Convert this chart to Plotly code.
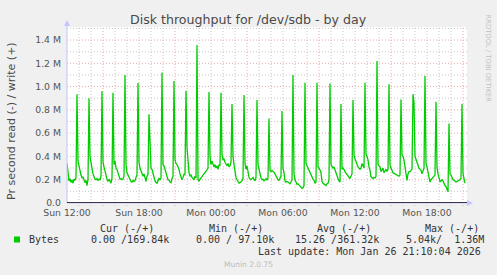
import plotly.graph_objects as go
import pandas as pd

# ---------------- data ----------------
# write throughput, thousands of bytes / second, one value per 5 minutes from Sun 12:00
write_k = [
    340, 250, 190, 210, 175, 200, 170, 205, 195, 220, 935, 360,
    330, 280, 240, 215, 225, 200, 175, 195, 150, 205, 900, 400,
    330, 300, 250, 215, 205, 200, 210, 195, 205, 200, 230, 960,
    350, 310, 270, 230, 205, 185, 205, 190, 170, 215, 947, 330,
    360, 300, 290, 260, 220, 205, 210, 200, 205, 230, 1100, 330,
    260, 240, 210, 190, 185, 180, 195, 185, 190, 220, 240, 1030,
    350, 300, 280, 250, 230, 250, 200, 185, 230, 245, 763, 420,
    300, 290, 260, 210, 190, 175, 170, 190, 210, 200, 215, 1120,
    330, 320, 280, 250, 230, 200, 195, 180, 175, 210, 230, 1047,
    370, 340, 330, 310, 290, 250, 220, 200, 220, 250, 240, 964,
    480, 360, 260, 230, 240, 220, 210, 200, 230, 215, 1357, 200,
    190, 205, 215, 225, 240, 250, 260, 275, 285, 300, 953, 400,
    330, 360, 340, 310, 330, 300, 320, 290, 330, 320, 947, 420,
    370, 380, 350, 330, 320, 340, 310, 320, 350, 850, 400, 330,
    260, 220, 200, 180, 170, 175, 180, 190, 210, 927, 340, 290,
    320, 260, 220, 205, 200, 210, 220, 200, 190, 220, 884, 330,
    280, 240, 215, 200, 205, 190, 200, 210, 195, 215, 726, 280,
    270, 280, 270, 265, 250, 230, 215, 200, 195, 215, 230, 790,
    300, 260, 190, 180, 185, 180, 170, 165, 180, 200, 1100, 250,
    200, 170, 160, 165, 155, 150, 140, 125, 130, 150, 1033, 340,
    320, 300, 285, 260, 230, 210, 205, 195, 170, 180, 1033, 310,
    300, 285, 260, 185, 170, 165, 160, 150, 165, 170, 200, 1027,
    330, 310, 300, 310, 280, 250, 230, 210, 190, 180, 850, 290,
    300, 290, 270, 260, 240, 230, 220, 210, 230, 250, 884, 410,
    380, 350, 330, 310, 300, 290, 300, 340, 320, 300, 1033, 420,
    400, 370, 310, 280, 225, 215, 210, 220, 215, 230, 1220, 330,
    320, 310, 270, 290, 300, 260, 280, 290, 270, 290, 1020, 330,
    300, 270, 260, 255, 250, 240, 240, 230, 230, 240, 890, 410,
    400, 370, 300, 220, 195, 250, 270, 270, 280, 290, 935, 860,
    400, 370, 350, 320, 300, 290, 280, 250, 270, 300, 1090, 340,
    310, 270, 220, 180, 200, 210, 220, 230, 240, 870, 310, 250,
    210, 185, 190, 200, 190, 160, 150, 140, 120, 97, 683, 250,
    240, 210, 200, 195, 190, 180, 185, 190, 195, 200, 215, 850,
    250, 200, 170,
]
start_time = "2026-01-25 12:00"
end_time = "2026-01-26 21:20"

x_tick_vals = ["2026-01-25 12:00", "2026-01-25 18:00", "2026-01-26 00:00",
               "2026-01-26 06:00", "2026-01-26 12:00", "2026-01-26 18:00"]
x_tick_text = ["Sun 12:00", "Sun 18:00", "Mon 00:00", "Mon 06:00", "Mon 12:00", "Mon 18:00"]
y_tick_vals = [0.0, 0.2, 0.4, 0.6, 0.8, 1.0, 1.2, 1.4]
y_tick_text = ["0.0", "0.2 M", "0.4 M", "0.6 M", "0.8 M", "1.0 M", "1.2 M", "1.4 M"]

legend_headers = ["Cur (-/+)", "Min (-/+)", "Avg (-/+)", "Max (-/+)"]
legend_values = ["0.00 /169.84k", "0.00 / 97.10k", "15.26 /361.32k", "5.04k/  1.36M"]
series_name = "Bytes"

# ---------------- layout helpers ----------------
W, H = 497, 275
L, R, T, B = 67, 467, 27, 203
def px(xp):
    return (xp - L) / (R - L)
def py(yp):
    return (B - yp) / (B - T)

GREEN = "#00cc00"
times = pd.date_range(start_time, periods=len(write_k), freq="5min")
values_M = [v / 1000.0 for v in write_k]

fig = go.Figure()
fig.add_trace(go.Scatter(x=times, y=values_M, mode="lines",
                         line=dict(color=GREEN, width=1.3), hoverinfo="skip",
                         showlegend=False))

shapes = []
grid_gray = "#c8c8c8"
grid_red = "#e8a8a8"
dash = "1px,2px"
hours = pd.date_range(start_time, end_time, freq="1h")
for h in hours[1:]:
    red = (h.hour % 6) == 3
    shapes.append(dict(type="line", xref="x", yref="paper", x0=h, x1=h, y0=py(206), y1=1,
                       layer="below",
                       line=dict(color=grid_red if red else grid_gray, width=1, dash=dash)))
for k in range(1, 16):
    v = k / 10.0
    red = (k % 2 == 0)
    shapes.append(dict(type="line", xref="paper", yref="y", x0=0, x1=1, y0=v, y1=v,
                       layer="below",
                       line=dict(color=grid_red if red else grid_gray, width=1, dash=dash)))

axis_col = "#c4c4ff"
# left axis + arrow
shapes.append(dict(type="line", xref="paper", yref="paper", x0=px(L), x1=px(L),
                   y0=py(B), y1=py(22), line=dict(color=axis_col, width=1)))
shapes.append(dict(type="path", xref="paper", yref="paper",
                   path=f"M {px(64)} {py(26)} L {px(70)} {py(26)} L {px(67)} {py(20)} Z",
                   fillcolor=axis_col, line=dict(width=0)))
# bottom axis + arrow
shapes.append(dict(type="line", xref="paper", yref="paper", x0=px(L), x1=px(471),
                   y0=py(B), y1=py(B), line=dict(color=axis_col, width=1)))
shapes.append(dict(type="path", xref="paper", yref="paper",
                   path=f"M {px(467)} {py(200)} L {px(467)} {py(206)} L {px(473)} {py(203)} Z",
                   fillcolor=axis_col, line=dict(width=0)))
# zero line
shapes.append(dict(type="line", xref="paper", yref="y", x0=0, x1=1, y0=0, y1=0,
                   line=dict(color="#000000", width=1.5)))
# legend swatch
shapes.append(dict(type="rect", xref="paper", yref="paper",
                   x0=px(14), x1=px(20), y0=py(242.5), y1=py(236.5),
                   fillcolor=GREEN, line=dict(width=0)))

ann = []
def text(xp, yp, s, size, color, family, xanchor="left", textangle=0):
    ann.append(dict(xref="paper", yref="paper", x=px(xp), y=py(yp), text=s,
                    showarrow=False, xanchor=xanchor, yanchor="middle",
                    textangle=textangle,
                    font=dict(size=size, color=color, family=family)))

SANS = "DejaVu Sans"
MONO = "DejaVu Sans Mono"
text(248.5, 19.5, "Disk throughput for /dev/sdb - by day", 12.6, "#4a4a4a", SANS, "center")
text(11, 121, "Pr second read (-) / write (+)", 11, "#4a4a4a", SANS, "center", -90)
text(488, 58.5, "RRDTOOL / TOBI OETIKER", 6.8, "#c0c0c0", SANS, "center", 90)

header_x = [98, 206.7, 315, 422.7]
value_x = [89, 194.3, 293.3, 404.3]
for hx, s in zip(header_x, legend_headers):
    text(hx, 228, s, 10, "#333333", MONO)
text(26.7, 239.5, series_name, 10, "#333333", MONO)
for vx, s in zip(value_x, legend_values):
    text(vx, 239.5, s.replace(" ", "&nbsp;"), 10, "#333333", MONO)
text(482.7, 251.7, "Last&nbsp;update:&nbsp;Mon&nbsp;Jan&nbsp;26&nbsp;21:10:04&nbsp;2026", 10, "#333333", MONO, "right")
text(248, 264.3, "Munin 2.0.75", 7.5, "#bbbbbb", SANS, "center")

fig.update_layout(
    width=W, height=H, autosize=False,
    margin=dict(l=L, r=W - R, t=T, b=H - B, pad=0),
    paper_bgcolor="#f0f0f0", plot_bgcolor="#ffffff",
    shapes=shapes, annotations=ann, showlegend=False,
    font=dict(family=SANS, color="#555555"),
    xaxis=dict(type="date", range=[start_time, end_time], tickvals=x_tick_vals,
               ticktext=x_tick_text, showgrid=False, zeroline=False, showline=False,
               ticks="", tickfont=dict(size=9.3, color="#555555", family=SANS),
               ticklabelstandoff=3, fixedrange=True),
    yaxis=dict(range=[0, 1.512], tickvals=y_tick_vals, ticktext=y_tick_text,
               showgrid=False, zeroline=False, showline=False, ticks="",
               tickfont=dict(size=9.3, color="#555555", family=SANS),
               ticklabelstandoff=5, fixedrange=True),
)

fig.write_html("out.html")
